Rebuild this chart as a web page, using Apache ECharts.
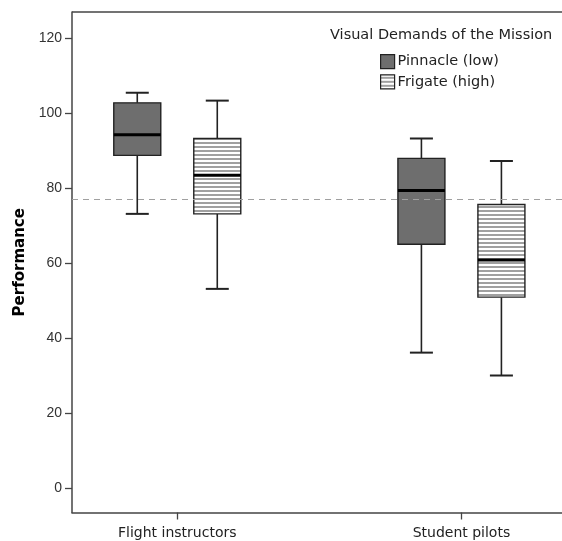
<!DOCTYPE html>
<html>
<head>
<meta charset="utf-8">
<script src="https://cdn.jsdelivr.net/npm/echarts@6/dist/echarts.min.js"></script>
<style>html,body{margin:0;padding:0;background:#fff;}#c{width:562px;height:541px;}</style>
</head>
<body>
<div id="c"></div>
<script>
// ---- data ----
const categories = ['Flight instructors', 'Student pilots'];
const seriesNames = ['Pinnacle (low)', 'Frigate (high)'];
// [min, Q1, median, Q3, max]
const pinnacle = [[73.1, 88.7, 94.2, 102.7, 105.4], [36.1, 65.0, 79.3, 87.9, 93.2]];
const frigate  = [[53.1, 73.1, 83.4, 93.2, 103.3], [30.0, 50.9, 60.8, 75.6, 87.2]];
const refValue = 77;
const yTicks = [0, 20, 40, 60, 80, 100, 120];
const legendTitle = 'Visual Demands of the Mission';
const yName = 'Performance';

// ---- styling ----
const FONT = '"Liberation Sans", Arial, sans-serif';
const WFONT = '"DejaVu Sans", sans-serif';
const pc = document.createElement('canvas');
pc.width = 4; pc.height = 4;
const g = pc.getContext('2d');
g.fillStyle = '#ffffff'; g.fillRect(0, 0, 4, 4);
g.fillStyle = '#a0a0a0'; g.fillRect(0, 2, 4, 2);
const stripe = { image: pc, repeat: 'repeat' };
const fills = ['#6e6e6e', stripe];
const offsets = [-40, 40];

function makeRender(idx) {
  return function (params, api) {
    const xv = api.value(0);
    const xc = api.coord([xv, 0])[0] + offsets[idx];
    const py = k => api.coord([xv, api.value(k)])[1];
    const yMin = py(1), yQ1 = py(2), yMed = py(3), yQ3 = py(4), yMax = py(5);
    const hw = 23.5, cw = 11.5;
    const ls = { stroke: '#222', lineWidth: 1.6 };
    return {
      type: 'group',
      children: [
        { type: 'line', shape: { x1: xc, y1: yMax, x2: xc, y2: yQ3 }, style: ls },
        { type: 'line', shape: { x1: xc, y1: yQ1, x2: xc, y2: yMin }, style: ls },
        { type: 'line', shape: { x1: xc - cw, y1: yMax, x2: xc + cw, y2: yMax }, style: { stroke: '#222', lineWidth: 2 } },
        { type: 'line', shape: { x1: xc - cw, y1: yMin, x2: xc + cw, y2: yMin }, style: { stroke: '#222', lineWidth: 2 } },
        { type: 'rect', shape: { x: xc - hw, y: yQ3, width: 2 * hw, height: yQ1 - yQ3 },
          style: { fill: fills[idx], stroke: '#222', lineWidth: 1.4 } },
        { type: 'line', shape: { x1: xc - hw, y1: yMed, x2: xc + hw, y2: yMed }, style: { stroke: '#000', lineWidth: 3 } }
      ]
    };
  };
}

const chart = echarts.init(document.getElementById('c'), null, { renderer: 'canvas' });
chart.setOption({
  animation: false,
  backgroundColor: '#fff',
  textStyle: { fontFamily: FONT },
  title: {
    text: legendTitle, left: 330, top: 28, padding: 0,
    textStyle: { fontFamily: WFONT, fontSize: 14.5, fontWeight: 'normal', color: '#222' }
  },
  legend: {
    orient: 'vertical', left: 380, top: 54, padding: 0, itemWidth: 14, itemHeight: 14, itemGap: 5,
    textStyle: { fontFamily: WFONT, fontSize: 14.5, color: '#222', padding: [0, 0, 0, -2] },
    data: [
      { name: seriesNames[0], icon: 'rect', itemStyle: { color: fills[0], borderColor: '#222', borderWidth: 1.2 } },
      { name: seriesNames[1], icon: 'rect', itemStyle: { color: stripe, borderColor: '#222', borderWidth: 1.2 } }
    ],
    selectedMode: false
  },
  grid: { left: 72, top: 12, width: 492, height: 500.5, containLabel: false, show: false },
  xAxis: {
    type: 'value', min: 0.6295, max: 0.6295 + 492 / 285.3,
    splitLine: { show: false },
    axisLine: { show: true, onZero: false, lineStyle: { color: '#444', width: 1.5 } },
    axisTick: { show: true, length: 7, customValues: [1, 2], lineStyle: { color: '#444', width: 1.3 } },
    axisLabel: {
      customValues: [1, 2], margin: 14, fontSize: 14, color: '#222', fontFamily: WFONT,
      formatter: v => categories[Math.round(v) - 1] || ''
    }
  },
  yAxis: {
    type: 'value', min: -6.53, max: 126.93,
    name: yName, nameLocation: 'middle', nameGap: 42, nameRotate: 90,
    nameTextStyle: { fontFamily: WFONT, fontSize: 15, fontWeight: 'bold', color: '#000' },
    splitLine: { show: false },
    axisLine: { show: true, onZero: false, lineStyle: { color: '#444', width: 1.5 } },
    axisTick: { show: true, length: 7, customValues: yTicks, lineStyle: { color: '#444', width: 1.3 } },
    axisLabel: { customValues: yTicks, margin: 10, fontSize: 14, color: '#333', fontFamily: FONT }
  },
  graphic: [
    { type: 'line', shape: { x1: 72, y1: 12, x2: 562, y2: 12 }, style: { stroke: '#444', lineWidth: 1.5 }, z: 10 }
  ],
  series: [
    {
      name: seriesNames[0], type: 'custom', renderItem: makeRender(0),
      encode: { x: 0, y: [1, 2, 3, 4, 5] },
      itemStyle: { color: fills[0] },
      data: pinnacle.map((v, i) => [i + 1].concat(v)),
      z: 3
    },
    {
      name: seriesNames[1], type: 'custom', renderItem: makeRender(1),
      encode: { x: 0, y: [1, 2, 3, 4, 5] },
      itemStyle: { color: '#aaaaaa' },
      data: frigate.map((v, i) => [i + 1].concat(v)),
      markLine: {
        silent: true, symbol: ['none', 'none'], label: { show: false }, z: 10,
        lineStyle: { color: '#a0a0a0', type: [6, 5], width: 1 },
        data: [{ yAxis: refValue }]
      },
      z: 4
    }
  ]
});
</script>
</body>
</html>
